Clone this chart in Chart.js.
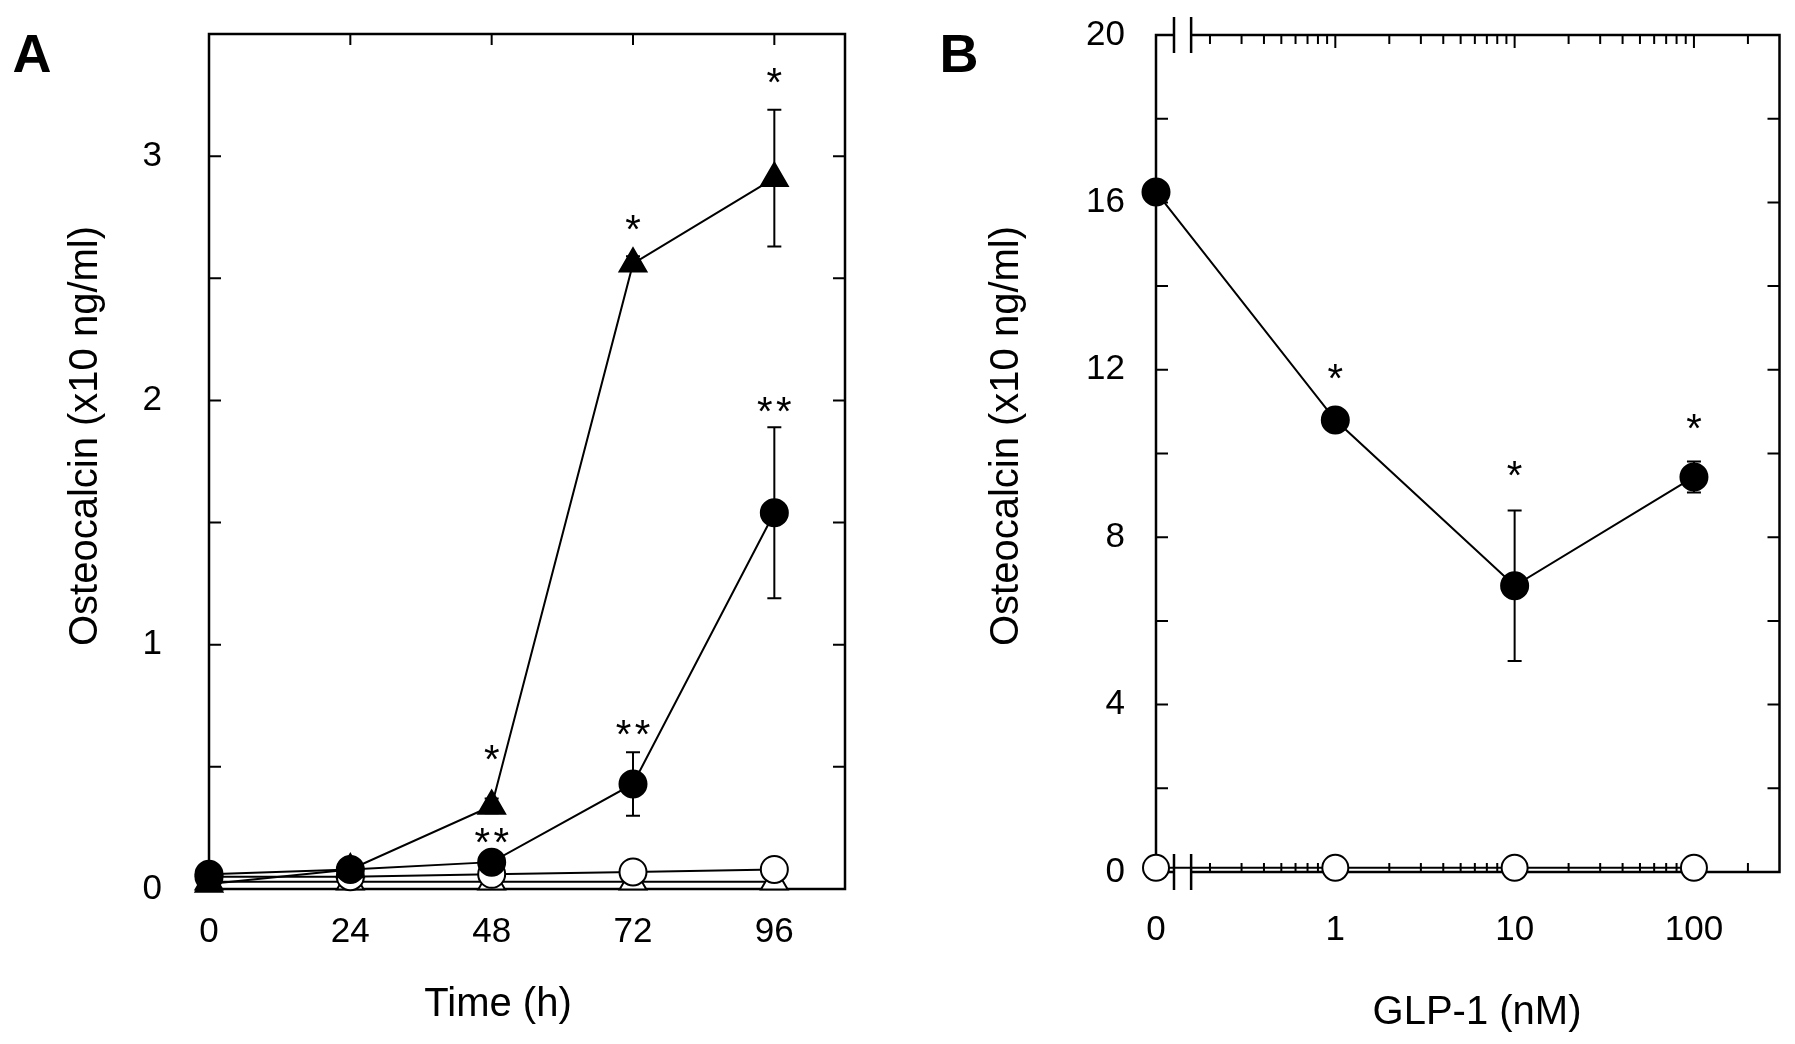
<!DOCTYPE html>
<html>
<head>
<meta charset="utf-8">
<script src="https://cdn.jsdelivr.net/npm/chart.js@4.4.1/dist/chart.umd.min.js"></script>
<style>
  html, body { margin: 0; padding: 0; background: #fff; }
  #wrap { position: relative; width: 1795px; height: 1044px; }
  canvas { position: absolute; top: 0; }
</style>
</head>
<body>
<div id="wrap">
  <canvas id="chartA" width="897" height="1044" style="left:0"></canvas>
  <canvas id="chartB" width="898" height="1044" style="left:897px"></canvas>
</div>
<script>
// ---- panel A: time course ----
const hoursA = [0, 24, 48, 72, 96]
const filledTriA = [0.02, 0.08, 0.34, 2.56, 2.91]
const filledTriErrA = [0, 0, 0.03, 0.03, 0.28]
const filledCircA = [0.06, 0.08, 0.11, 0.43, 1.54]
const filledCircErrA = [0, 0, 0, 0.13, 0.35]
const openCircA = [0.05, 0.05, 0.06, 0.07, 0.08]
const openTriA = [0.03, 0.03, 0.03, 0.03, 0.03]
// significance marks and the level they are written at
const starsTriA = ['', '', '*', '*', '*']
const starLevelTriA = [0, 0, 0.56, 2.73, 3.33]
const starsCircA = ['', '', '**', '**', '**']
const starLevelCircA = [0, 0, 0.22, 0.66, 1.985]
const xTicksA = [0, 24, 48, 72, 96]
const yTicksA = [0, 1, 2, 3]
const yMinorA = [0.5, 1.5, 2.5]

// ---- panel B: dose response ----
const doseB = [0, 1, 10, 100]
const filledB = [16.25, 10.8, 6.84, 9.44]
const filledErrB = [0, 0, 1.8, 0.37]
const openB = [0.1, 0.1, 0.1, 0.1]
const starsB = ['', '*', '*', '*']
const starLevelB = [0, 11.95, 9.63, 10.77]
const yTicksB = [0, 4, 8, 12, 16, 20]
const yMinorB = [2, 6, 10, 14, 18]

const FONT = "'Liberation Sans', Arial, sans-serif"
const ZERO_AT = 0.1          // where dose 0 sits on the log axis
const BREAK = [0.126, 0.157] // axis break

function pts(xs, ys) {
  return xs.map((v, i) => ({ x: v, y: ys[i] }))
}

function errorBars(ctx, xs, ys, es, sx, sy) {
  ctx.beginPath()
  xs.forEach((v, i) => {
    if (!es[i]) return
    const px = sx.getPixelForValue(v)
    const top = sy.getPixelForValue(ys[i] + es[i])
    const bot = sy.getPixelForValue(ys[i] - es[i])
    ctx.moveTo(px, top); ctx.lineTo(px, bot)
    ctx.moveTo(px - 7, top); ctx.lineTo(px + 7, top)
    ctx.moveTo(px - 7, bot); ctx.lineTo(px + 7, bot)
  })
  ctx.stroke()
}

function stars(ctx, xs, levels, labels, sx, sy) {
  ctx.font = '40px ' + FONT
  ctx.fillStyle = '#000'
  ctx.textAlign = 'center'
  ctx.textBaseline = 'alphabetic'
  const m = ctx.measureText('*')
  const mid = (m.actualBoundingBoxAscent - m.actualBoundingBoxDescent) / 2
  labels.forEach((s, i) => {
    if (!s) return
    const px = sx.getPixelForValue(xs[i])
    const cy = sy.getPixelForValue(levels[i])
    for (let k = 0; k < s.length; k++) {
      ctx.fillText(s[k], px + (k - (s.length - 1) / 2) * 19, cy + mid)
    }
  })
}

function vText(ctx, text, x, y) {
  ctx.save()
  ctx.translate(x, y)
  ctx.rotate(-Math.PI / 2)
  ctx.fillText(text, 0, 0)
  ctx.restore()
}

const tickFont = { family: FONT, size: 35 }

// pin the plot box: fixed axis sizes, no extra label padding
function fixY(w) {
  return s => { s.width = w; s.paddingTop = 0; s.paddingBottom = 0 }
}
function fixX(h) {
  return s => { s.height = h; s.paddingLeft = 0; s.paddingRight = 0 }
}

const panelA = {
  id: 'panelA',
  beforeDatasetsDraw(chart) {
    const { ctx, chartArea: a, scales: { x, y } } = chart
    ctx.save()
    ctx.strokeStyle = '#000'
    ctx.lineWidth = 2.5
    ctx.strokeRect(a.left, a.top, a.right - a.left, a.bottom - a.top)
    ctx.lineWidth = 2
    ctx.beginPath()
    yTicksA.concat(yMinorA).forEach(v => {
      const py = y.getPixelForValue(v)
      ctx.moveTo(a.left, py); ctx.lineTo(a.left + 12, py)
      ctx.moveTo(a.right, py); ctx.lineTo(a.right - 12, py)
    })
    xTicksA.forEach(v => {
      const px = x.getPixelForValue(v)
      ctx.moveTo(px, a.bottom); ctx.lineTo(px, a.bottom - 11)
      ctx.moveTo(px, a.top); ctx.lineTo(px, a.top + 11)
    })
    ctx.stroke()
    errorBars(ctx, hoursA, filledTriA, filledTriErrA, x, y)
    errorBars(ctx, hoursA, filledCircA, filledCircErrA, x, y)
    ctx.restore()
  },
  afterDatasetsDraw(chart) {
    const { ctx, scales: { x, y } } = chart
    ctx.save()
    stars(ctx, hoursA, starLevelTriA, starsTriA, x, y)
    stars(ctx, hoursA, starLevelCircA, starsCircA, x, y)
    ctx.fillStyle = '#000'
    ctx.textAlign = 'center'
    ctx.textBaseline = 'middle'
    ctx.font = '40px ' + FONT
    vText(ctx, 'Osteocalcin (x10 ng/ml)', 86, 436)
    ctx.fillText('Time (h)', 498, 1005)
    ctx.font = 'bold 54px ' + FONT
    ctx.fillText('A', 32, 57)
    ctx.restore()
  }
}

const panelB = {
  id: 'panelB',
  beforeDatasetsDraw(chart) {
    const { ctx, chartArea: a, scales: { x, y } } = chart
    const left = x.getPixelForValue(ZERO_AT)
    const b0 = x.getPixelForValue(BREAK[0])
    const b1 = x.getPixelForValue(BREAK[1])
    ctx.save()
    ctx.strokeStyle = '#000'
    ctx.lineWidth = 2.5
    ctx.beginPath()
    ctx.moveTo(b0, a.top); ctx.lineTo(left, a.top); ctx.lineTo(left, a.bottom); ctx.lineTo(b0, a.bottom)
    ctx.moveTo(b1, a.top); ctx.lineTo(a.right, a.top); ctx.lineTo(a.right, a.bottom); ctx.lineTo(b1, a.bottom)
    ;[b0, b1].forEach(bx => {
      ctx.moveTo(bx, a.top - 18); ctx.lineTo(bx, a.top + 18)
      ctx.moveTo(bx, a.bottom - 18); ctx.lineTo(bx, a.bottom + 18)
    })
    ctx.stroke()
    ctx.lineWidth = 2
    ctx.beginPath()
    yTicksB.concat(yMinorB).forEach(v => {
      const py = y.getPixelForValue(v)
      ctx.moveTo(left, py); ctx.lineTo(left + 12, py)
      ctx.moveTo(a.right, py); ctx.lineTo(a.right - 12, py)
    })
    for (let dec = 0.1; dec < 1000; dec *= 10) {
      for (let k = 1; k <= 9; k++) {
        const v = k * dec
        if (v <= BREAK[1] || v >= x.max) continue
        const px = x.getPixelForValue(v)
        const len = k === 1 ? 13 : 9
        ctx.moveTo(px, a.top); ctx.lineTo(px, a.top + len)
        ctx.moveTo(px, a.bottom); ctx.lineTo(px, a.bottom - len)
      }
    }
    ctx.stroke()
    errorBars(ctx, doseB.map(d => d || ZERO_AT), filledB, filledErrB, x, y)
    ctx.restore()
  },
  afterDatasetsDraw(chart) {
    const { ctx, scales: { x, y } } = chart
    ctx.save()
    stars(ctx, doseB.map(d => d || ZERO_AT), starLevelB, starsB, x, y)
    ctx.fillStyle = '#000'
    ctx.textAlign = 'center'
    ctx.textBaseline = 'middle'
    ctx.font = '40px ' + FONT
    vText(ctx, 'Osteocalcin (x10 ng/ml)', 1007 - 897, 436)
    ctx.fillText('GLP-1 (nM)', 1477 - 897, 1013)
    ctx.font = 'bold 54px ' + FONT
    ctx.fillText('B', 959 - 897, 57)
    ctx.restore()
  }
}

function lineSet(data, style, radius, fill, order) {
  return {
    data: data,
    borderColor: '#000',
    borderWidth: 2,
    pointStyle: style,
    pointRadius: radius,
    pointBackgroundColor: fill,
    pointBorderColor: '#000',
    pointBorderWidth: 2,
    tension: 0,
    clip: false,
    order: order
  }
}

new Chart(document.getElementById('chartA'), {
  type: 'line',
  data: {
    datasets: [
      lineSet(pts(hoursA, filledCircA), 'circle', 13.5, '#000', 1),
      lineSet(pts(hoursA, filledTriA), 'triangle', 15.5, '#000', 2),
      lineSet(pts(hoursA, openCircA), 'circle', 13.5, '#fff', 3),
      lineSet(pts(hoursA, openTriA), 'triangle', 15.5, '#fff', 4)
    ]
  },
  options: {
    responsive: false,
    animation: false,
    events: [],
    layout: { padding: { left: 0, right: 897 - 845, top: 34, bottom: 0 } },
    plugins: { legend: { display: false }, tooltip: { enabled: false } },
    scales: {
      x: {
        type: 'linear', min: 0, max: 108,
        afterBuildTicks: s => { s.ticks = xTicksA.map(v => ({ value: v })) },
        afterFit: fixX(1044 - 889),
        grid: { display: false, drawTicks: false },
        border: { display: false },
        ticks: { font: tickFont, color: '#000', padding: 22, maxRotation: 0, autoSkip: false }
      },
      y: {
        type: 'linear', min: 0, max: 3.5,
        afterBuildTicks: s => { s.ticks = yTicksA.map(v => ({ value: v })) },
        afterFit: fixY(209),
        grid: { display: false, drawTicks: false },
        border: { display: false },
        ticks: { font: tickFont, color: '#000', padding: 47 }
      }
    }
  },
  plugins: [panelA]
})

new Chart(document.getElementById('chartB'), {
  type: 'line',
  data: {
    datasets: [
      lineSet(pts(doseB.map(d => d || ZERO_AT), filledB), 'circle', 13.5, '#000', 1),
      lineSet(pts(doseB.map(d => d || ZERO_AT), openB), 'circle', 13, '#fff', 2)
    ]
  },
  options: {
    responsive: false,
    animation: false,
    events: [],
    layout: { padding: { left: 0, right: 898 - (1780 - 897), top: 35, bottom: 0 } },
    plugins: { legend: { display: false }, tooltip: { enabled: false } },
    scales: {
      x: {
        type: 'logarithmic', min: ZERO_AT, max: 300,
        afterBuildTicks: s => { s.ticks = doseB.map(d => ({ value: d || ZERO_AT })) },
        afterFit: fixX(1044 - 872),
        grid: { display: false, drawTicks: false },
        border: { display: false },
        ticks: { font: tickFont, color: '#000', padding: 37, maxRotation: 0, autoSkip: false,
                 callback: (v, i) => String(doseB[i]) }
      },
      y: {
        type: 'linear', min: 0, max: 20,
        afterBuildTicks: s => { s.ticks = yTicksB.map(v => ({ value: v })) },
        afterFit: fixY(1156 - 897),
        grid: { display: false, drawTicks: false },
        border: { display: false },
        ticks: { font: tickFont, color: '#000', padding: 31 }
      }
    }
  },
  plugins: [panelB]
})
</script>
</body>
</html>
